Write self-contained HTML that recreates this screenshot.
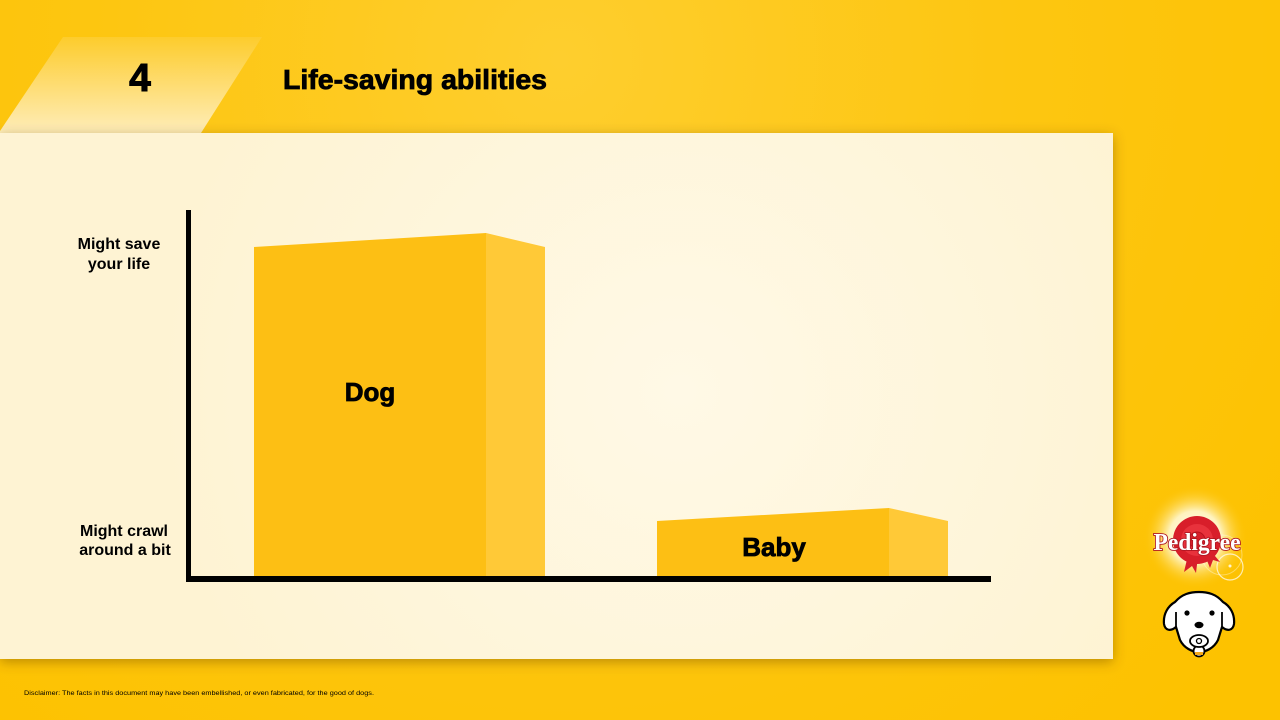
<!DOCTYPE html>
<html><head><meta charset="utf-8"><style>
html,body{margin:0;padding:0;width:1280px;height:720px;overflow:hidden;background:#FDC300}
svg{display:block}
</style></head><body>
<svg width="1280" height="720" viewBox="0 0 1280 720" xmlns="http://www.w3.org/2000/svg" font-family="Liberation Sans, sans-serif">
<defs>
<radialGradient id="bg" cx="560" cy="60" r="900" gradientUnits="userSpaceOnUse">
<stop offset="0" stop-color="#FECE2E"/><stop offset="0.5" stop-color="#FDC611"/><stop offset="1" stop-color="#FDC200"/>
</radialGradient>
<linearGradient id="para" x1="0" y1="37" x2="0" y2="133" gradientUnits="userSpaceOnUse">
<stop offset="0" stop-color="#FDCC2C"/><stop offset="1" stop-color="#FEEDB9"/>
</linearGradient>
<radialGradient id="panel" cx="680" cy="390" r="520" gradientUnits="userSpaceOnUse">
<stop offset="0" stop-color="#FFF9E6"/><stop offset="1" stop-color="#FEF3D3"/>
</radialGradient>
<filter id="sh" x="-5%" y="-10%" width="110%" height="120%">
<feDropShadow dx="0" dy="3" stdDeviation="6" flood-color="#6a4600" flood-opacity="0.45"/>
</filter>
<radialGradient id="glow" cx="1195" cy="537" r="52" gradientUnits="userSpaceOnUse">
<stop offset="0" stop-color="#FFFFFF" stop-opacity="1"/><stop offset="0.5" stop-color="#FFFBE0" stop-opacity="0.85"/><stop offset="1" stop-color="#FDC300" stop-opacity="0"/>
</radialGradient>
</defs>
<rect width="1280" height="720" fill="url(#bg)"/>
<polygon points="63,37 262,37 201,133 0,133 0,131" fill="url(#para)"/>
<text x="140" y="91" text-anchor="middle" font-size="39" font-weight="bold" fill="#000" stroke="#000" stroke-width="1">4</text>
<text x="283" y="89" font-size="28" font-weight="bold" fill="#000" stroke="#000" stroke-width="0.8" textLength="264" lengthAdjust="spacingAndGlyphs">Life-saving abilities</text>
<rect x="0" y="133" width="1113" height="526" fill="url(#panel)" filter="url(#sh)"/>
<g font-size="16" font-weight="bold" fill="#000" text-anchor="middle">
<text x="119" y="249">Might save</text>
<text x="119" y="269">your life</text>
<text x="124" y="536">Might crawl</text>
<text x="125" y="555">around a bit</text>
</g>
<polygon points="254,247 486,233 486,577 254,577" fill="#FDBF14"/>
<polygon points="486,233 545,247 545,577 486,577" fill="#FFC937"/>
<polygon points="657,521 889,508 889,577 657,577" fill="#FDBF14"/>
<polygon points="889,508 948,521 948,577 889,577" fill="#FFC937"/>
<text x="370" y="401" text-anchor="middle" font-size="26" font-weight="bold" fill="#000" stroke="#000" stroke-width="0.8">Dog</text>
<text x="774" y="556" text-anchor="middle" font-size="26" font-weight="bold" fill="#000" stroke="#000" stroke-width="0.8">Baby</text>
<rect x="186" y="210" width="5" height="371" fill="#000"/>
<rect x="186" y="576" width="805" height="6" fill="#000"/>
<text x="24" y="695" font-size="6.8" fill="#000" textLength="350" lengthAdjust="spacingAndGlyphs">Disclaimer: The facts in this document may have been embellished, or even fabricated, for the good of dogs.</text>
<circle cx="1195" cy="537" r="52" fill="url(#glow)"/>
<circle cx="1230" cy="567" r="13" fill="none" stroke="#FFFFFF" stroke-opacity="0.7" stroke-width="1.2"/>
<circle cx="1222" cy="555" r="20" fill="none" stroke="#FFFFFF" stroke-opacity="0.35" stroke-width="1"/>
<circle cx="1230" cy="566" r="1.5" fill="#fff" opacity="0.8"/>
<g fill="#D81E2A">
<polygon points="1188,555 1184,572 1192,566 1196,573 1198,556"/>
<polygon points="1204,553 1210,568 1213,560 1220,562 1210,550"/>
<circle cx="1197" cy="540" r="24"/>
</g>
<circle cx="1197" cy="540" r="16" fill="#E8323C"/>
<circle cx="1197" cy="540" r="8" fill="#D81E2A" stroke="#B8121E" stroke-width="1"/>
<text x="1197" y="550" text-anchor="middle" style="font-family:'Liberation Serif',serif" font-size="24" font-weight="bold" fill="#FFFFFF" stroke="#B01622" stroke-width="1.8" paint-order="stroke" textLength="87" lengthAdjust="spacingAndGlyphs">Pedigree</text>
<g stroke="#000" stroke-width="2.2" fill="#FFFFFF" stroke-linejoin="round">
<path d="M1175,602 C1168,606 1163,614 1164,624 C1165,630 1170,632 1176,627 L1180,640 C1184,648 1192,652 1199,652 C1206,652 1214,648 1218,640 L1222,627 C1228,632 1233,630 1234,624 C1235,614 1230,606 1223,602 C1216,594 1208,592 1199,592 C1190,592 1182,594 1175,602 Z"/>
</g>
<path d="M1176,627 L1176,612 M1222,627 L1222,612" stroke="#000" stroke-width="1.8" fill="none"/>
<circle cx="1187" cy="613" r="2.6" fill="#000"/>
<circle cx="1212" cy="613" r="2.6" fill="#000"/>
<ellipse cx="1199" cy="625" rx="4.5" ry="3.2" fill="#000"/>
<circle cx="1199" cy="651" r="5.5" fill="#FFFFFF" stroke="#000" stroke-width="1.8"/>
<path d="M1195,652 L1203,652 L1203,655 L1195,655 Z" fill="#F4A81C"/>
<ellipse cx="1199" cy="641" rx="9" ry="6" fill="#FFFFFF" stroke="#000" stroke-width="1.8"/>
<circle cx="1199" cy="641" r="2.5" fill="none" stroke="#000" stroke-width="1.3"/>
</svg>
</body></html>
